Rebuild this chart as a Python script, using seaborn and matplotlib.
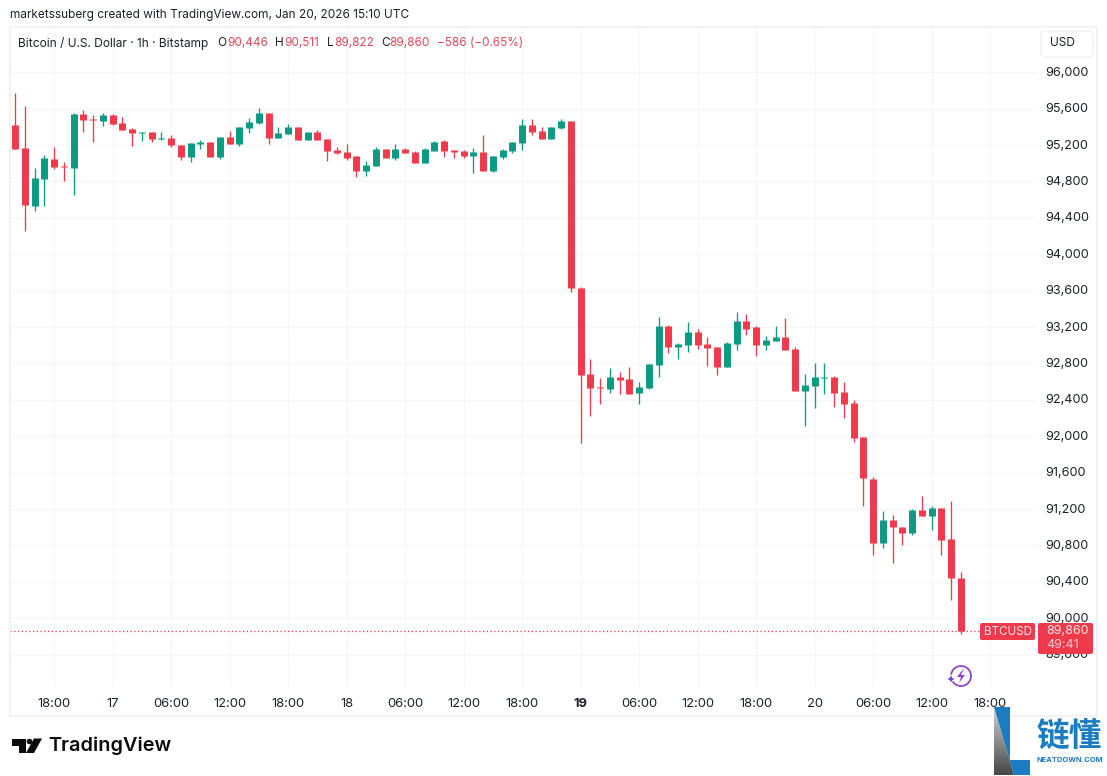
import matplotlib
matplotlib.use("Agg")
import matplotlib.pyplot as plt
from matplotlib.patches import FancyBboxPatch, Polygon, Rectangle, Circle
from matplotlib.transforms import Affine2D, ScaledTranslation
import numpy as np
import pandas as pd
import seaborn as sns

# Hourly BTC/USD candles, starting 16 Jan 14:00 UTC
open_ = [95421, 95168, 94531, 94831, 95047, 94974, 94952, 95542, 95487, 95465,
         95531, 95443, 95377, 95333, 95344, 95267, 95278, 95201, 95069, 95212,
         95234, 95069, 95289, 95212, 95388, 95443, 95553, 95278, 95322, 95399,
         95256, 95344, 95267, 95146, 95124, 95080, 94915, 94970, 95157, 95058,
         95157, 95124, 95003, 95135, 95245, 95146, 95135, 95080, 95124, 94915,
         95069, 95135, 95223, 95421, 95355, 95267, 95388, 95465, 93630, 92684,
         92541, 92519, 92651, 92629, 92475, 92530, 92783, 93212, 92981, 93003,
         93146, 93014, 92981, 92761, 93014, 93267, 93201, 93003, 93047, 93091,
         92959, 92497, 92552, 92640, 92651, 92486, 92366, 91992, 91530, 90827,
         91080, 91003, 90937, 91190, 91124, 91212, 90871, 90446]
high = [95770, 95630, 94948, 95087, 95179, 95011, 95549, 95582, 95531, 95553,
        95538, 95509, 95388, 95344, 95344, 95344, 95311, 95201, 95223, 95256,
        95234, 95289, 95355, 95399, 95498, 95608, 95553, 95399, 95432, 95399,
        95344, 95366, 95267, 95179, 95212, 95080, 95025, 95179, 95157, 95212,
        95168, 95135, 95168, 95245, 95256, 95146, 95146, 95168, 95311, 95080,
        95157, 95234, 95487, 95487, 95399, 95399, 95487, 95465, 93640, 92849,
        92640, 92750, 92706, 92761, 92596, 92794, 93311, 93223, 93025, 93256,
        93179, 93091, 92981, 93036, 93366, 93344, 93212, 93102, 93212, 93300,
        92981, 92684, 92805, 92805, 92662, 92596, 92399, 91992, 91552, 91179,
        91135, 91003, 91201, 91344, 91234, 91212, 91289, 90511]
low = [95160, 94259, 94479, 94534, 94941, 94806, 94652, 95344, 95234, 95410,
       95421, 95366, 95190, 95245, 95234, 95256, 95179, 95036, 95014, 95157,
       95069, 95047, 95212, 95190, 95333, 95432, 95212, 95278, 95322, 95256,
       95256, 95256, 95025, 95102, 95036, 94849, 94860, 94970, 95058, 95036,
       95113, 95003, 95003, 95135, 95069, 95058, 95058, 94893, 94915, 94904,
       95047, 95113, 95146, 95311, 95267, 95267, 95377, 93586, 91926, 92223,
       92355, 92475, 92464, 92464, 92355, 92519, 92651, 92915, 92849, 92926,
       92959, 92772, 92673, 92761, 92948, 93113, 92882, 92948, 93047, 92948,
       92497, 92113, 92311, 92464, 92322, 92201, 91937, 91234, 90695, 90772,
       90607, 90805, 90915, 91124, 90970, 90695, 90200, 89822]
close = [95160, 94545, 94838, 95058, 94963, 94963, 95542, 95476, 95480, 95531,
         95432, 95366, 95333, 95344, 95267, 95278, 95201, 95069, 95223, 95234,
         95069, 95289, 95212, 95399, 95454, 95553, 95278, 95333, 95399, 95256,
         95344, 95256, 95135, 95113, 95058, 94915, 94981, 95157, 95058, 95157,
         95113, 95003, 95157, 95234, 95135, 95124, 95080, 95124, 94915, 95080,
         95146, 95234, 95421, 95344, 95267, 95399, 95465, 93630, 92673, 92530,
         92530, 92651, 92618, 92464, 92541, 92794, 93212, 92981, 93014, 93146,
         93003, 92970, 92761, 93025, 93267, 93179, 93003, 93058, 93091, 92948,
         92497, 92563, 92651, 92651, 92475, 92355, 91981, 91541, 90827, 91080,
         91003, 90937, 91190, 91124, 91212, 90860, 90442, 89860]

price_ticks = [96000, 95600, 95200, 94800, 94400, 94000, 93600, 93200, 92800,
               92400, 92000, 91600, 91200, 90800, 90400, 90000, 89600]
time_ticks = [4, 10, 16, 22, 28, 34, 40, 46, 52, 58, 64, 70, 76, 82, 88, 94, 100]
time_labels = ["18:00", "17", "06:00", "12:00", "18:00", "18", "06:00", "12:00",
               "18:00", "19", "06:00", "12:00", "18:00", "20", "06:00", "12:00",
               "18:00"]

UP = "#0b9a82"
DOWN = "#ef3a4b"
TEXT_RED = "#e0495a"
INK = "#1c2029"
GRID = "#f5f6f8"
FRAME = "#f1f2f4"
W, H = 1107, 776

sns.set_theme(style="white")
plt.rcParams["font.family"] = ["Inter", "Noto Sans CJK SC", "DejaVu Sans"]
plt.rcParams["lines.solid_capstyle"] = "butt"

candles = pd.DataFrame({"hour": np.arange(len(open_)), "open": open_, "high": high,
                        "low": low, "close": close})
candles["side"] = np.where(candles["close"] >= candles["open"], "up", "down")
palette = {"up": UP, "down": DOWN}

wicks = candles.melt(id_vars=["hour", "side"], value_vars=["high", "low"],
                     value_name="price")
bodies = candles.melt(id_vars=["hour", "side"], value_vars=["open", "close"],
                      value_name="price")

fig = plt.figure(figsize=(W / 100, H / 100), dpi=100, facecolor="white")
px = lambda x, y: (x / W, 1 - y / H)
screen = Affine2D()
ax = fig.add_axes([10 / W, 1 - 687 / H, (1037 - 10) / W, (687 - 27) / H])

sns.lineplot(data=wicks, x="hour", y="price", hue="side", units="hour",
             estimator=None, palette=palette, legend=False, linewidth=0.95,
             sort=False, ax=ax, zorder=3)
sns.lineplot(data=bodies, x="hour", y="price", hue="side", units="hour",
             estimator=None, palette=palette, legend=False, linewidth=5.0,
             sort=False, ax=ax, zorder=4)

ax.set_xlim(-0.513, 104.82)
ax.set_ylim(89244, 96498)
ax.set_xlabel("")
ax.set_ylabel("")
ax.set_xticks(time_ticks)
ax.set_xticklabels(time_labels)
ax.set_yticks(price_ticks)
ax.set_yticklabels([f"{p:,}" for p in price_ticks])
ax.yaxis.tick_right()
ax.tick_params(axis="x", length=0, pad=8, labelsize=9.4, labelcolor=INK)
ax.tick_params(axis="y", length=0, pad=6.2, labelsize=9.1, labelcolor=INK)
lift = ScaledTranslation(0, 1 / 100, fig.dpi_scale_trans)
for label in ax.get_yticklabels():
    label.set_transform(label.get_transform() + lift)
for label, text in zip(ax.get_xticklabels(), time_labels):
    if text == "19":
        label.set_fontweight("bold")
ax.grid(True, color=GRID, linewidth=0.9)
ax.set_axisbelow(True)
for spine in ax.spines.values():
    spine.set_visible(False)

# Dotted marker at the last close
ax.axhline(close[-1], color=DOWN, linewidth=0.9, linestyle=(0, (1, 2)), zorder=2)

# Chart frame
fig.add_artist(Rectangle(px(10, 716), 1087 / W, 689 / H, fill=False,
                         edgecolor=FRAME, linewidth=1.5,
                         transform=fig.transFigure))

# Header lines
fig.text(*px(10, 15), "marketssuberg created with TradingView.com, Jan 20, 2026 15:10 UTC",
         fontsize=8.5, color=INK, va="center", ha="left")
fig.text(*px(18, 43), "Bitcoin / U.S. Dollar · 1h · Bitstamp", fontsize=8.6,
         color=INK, va="center", ha="left")
legend_parts = [(217, "O", INK), (227, "90,446", TEXT_RED), (275, "H", INK),
                (284, "90,511", TEXT_RED), (327, "L", INK), (334, "89,822", TEXT_RED),
                (381, "C", INK), (389, "89,860", TEXT_RED), (437, "−586 (−0.65%)", TEXT_RED)]
for x_pos, text, color in legend_parts:
    fig.text(*px(x_pos, 43), text, fontsize=8.5, color=color, va="center", ha="left")


def rounded(x0, y0, x1, y1, face, edge="none", radius=2.0, zorder=6):
    patch = FancyBboxPatch((x0, H - y1), x1 - x0, y1 - y0,
                           boxstyle=f"round,pad=0,rounding_size={radius}",
                           facecolor=face, edgecolor=edge, linewidth=1.0,
                           transform=screen, zorder=zorder)
    fig.add_artist(patch)


# USD selector
rounded(1041, 31, 1093, 57, "white", edge="#f1f2f4", radius=4)
fig.text(*px(1050, 43.5), "USD", fontsize=8.6, color=INK, va="center", ha="left", zorder=7)

# Symbol and price badges
rounded(980, 623, 1035, 640, DOWN)
fig.text(*px(984, 632), "BTCUSD", fontsize=8.4, color="#ffe5e7", va="center", ha="left", zorder=7)
rounded(1038, 623, 1093, 654, DOWN)
fig.text(*px(1046, 631), "89,860", fontsize=9.0, color="#ffe5e7", va="center", ha="left", zorder=7)
fig.text(*px(1046, 645), "49:41", fontsize=9.0, color="#ffc9cd", va="center", ha="left", zorder=7)

# Purple lightning badge
PURPLE = "#8e45c9"
fig.add_artist(Circle((961, H - 676), 10, fill=False, edgecolor=PURPLE, linewidth=1.3,
                      transform=screen))
bolt = [(964, 668), (957, 677), (961, 677), (959, 683), (965, 675), (961, 675)]
fig.add_artist(Polygon([(x, H - y) for x, y in bolt], closed=True, facecolor=PURPLE,
                       edgecolor="none", transform=screen))
star = [(951, 674.5), (952.5, 677.5), (955.5, 679), (952.5, 680.5), (951, 683.5),
        (949.5, 680.5), (946.5, 679), (949.5, 677.5)]
fig.add_artist(Polygon([(x, H - y) for x, y in star], closed=True, facecolor="#6a44d8",
                       edgecolor="white", linewidth=0.6, transform=screen))

# TradingView wordmark
tv_bar = [(12, 738.5), (26, 738.5), (26, 753), (19, 753), (19, 746), (12, 746)]
tv_slash = [(34, 738.5), (42, 738.5), (34, 753), (26, 753)]
for shape in (tv_bar, tv_slash):
    fig.add_artist(Polygon([(x, H - y) for x, y in shape], closed=True,
                           facecolor="#0b0b0b", edgecolor="none", transform=screen))
fig.add_artist(Circle((29.5, H - 741.5), 2.8, facecolor="#0b0b0b", edgecolor="none", transform=screen))
fig.text(*px(48, 746), "TradingView", fontsize=14.3, fontweight="semibold", color="#0b0b0b",
         va="center", ha="left")

# Publisher mark in the corner
logo_ax = fig.add_axes([0, 0, 1, 1], facecolor="none", zorder=8)
logo_ax.axis("off")
gray = np.linspace(0.82, 0.28, 64).reshape(-1, 1)
image = logo_ax.imshow(gray, cmap="gray", vmin=0, vmax=1, extent=(994, 1014, 775, 707),
                       aspect="auto", zorder=1)
wedge = Polygon([(994, 707), (994, 775), (1014, 775)], closed=True, facecolor="none",
                edgecolor="none", transform=logo_ax.transData)
logo_ax.add_patch(wedge)
image.set_clip_path(wedge)
logo_ax.set_xlim(0, W)
logo_ax.set_ylim(H, 0)
logo_ax.add_patch(Polygon([(994, 707), (1010, 707), (1010, 760), (1030, 760), (1030, 775),
                           (1014, 775)], closed=True, facecolor="#1b7cc1", edgecolor="none",
                          zorder=2))
logo_ax.text(1069, 736.5, "链懂", fontsize=23.5, fontweight="bold", color="#1b7cc1",
             family=["Noto Sans CJK SC"], ha="center", va="center")
logo_ax.text(1070, 759.5, "NEATDOWN.COM", fontsize=5.4, fontweight="bold", color="#1b7cc1",
             ha="center", va="center")

fig.savefig("out.png", dpi=100, facecolor="white")
